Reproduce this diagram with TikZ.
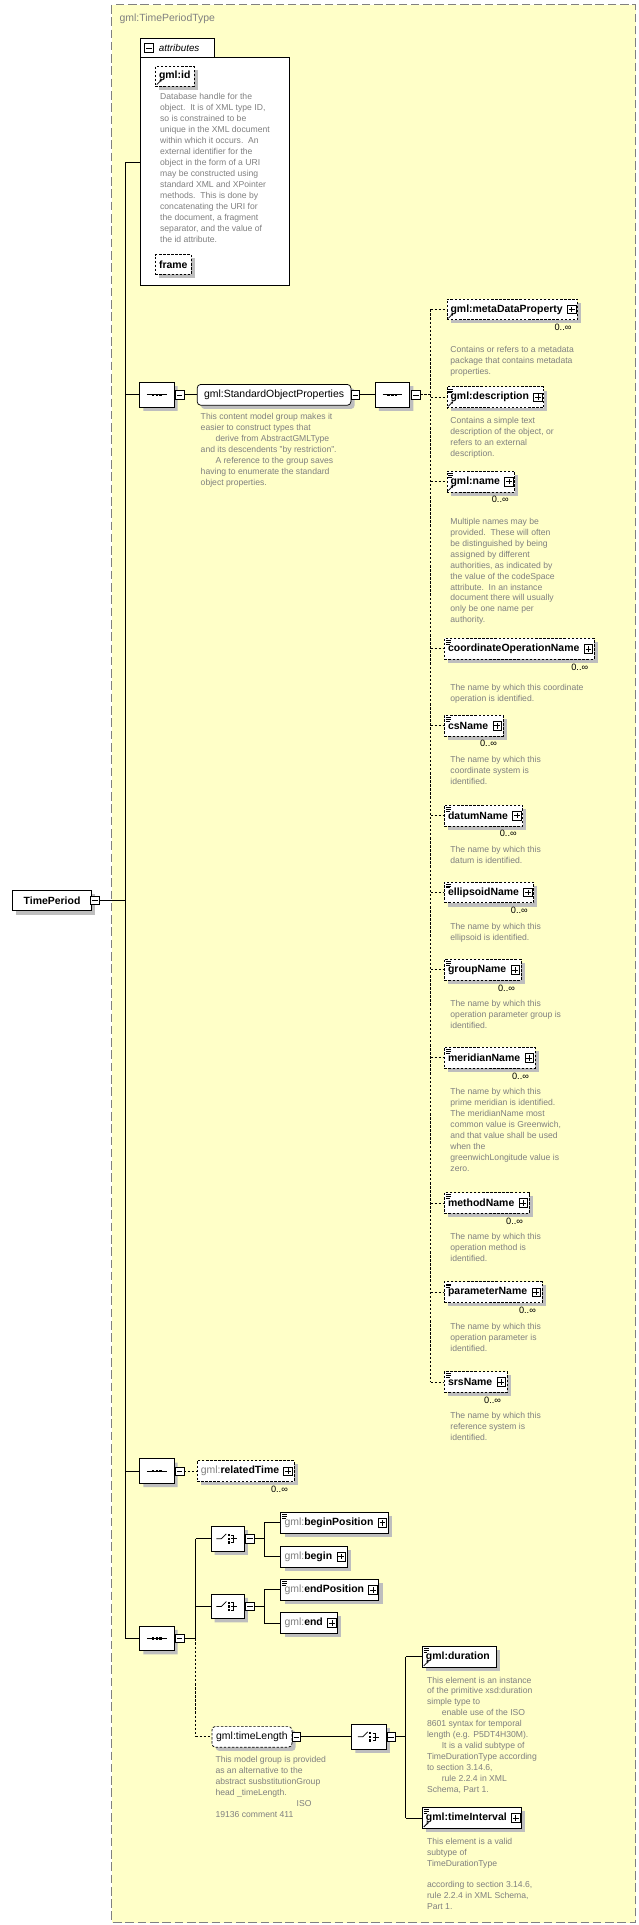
\documentclass[tikz,border=0pt]{standalone}
\usepackage{fontspec}
\setmainfont{Liberation Sans}
\usetikzlibrary{shapes.misc,shadows}
\definecolor{bgy}{RGB}{255,255,200}
\definecolor{dtxt}{RGB}{128,128,128}
\definecolor{shd}{RGB}{190,190,190}
\newcommand{\gm}{{\color{dtxt}\mdseries gml:}}
\newcommand{\myplus}[1]{\draw[fill=white,solid,line width=0.5pt] ($(#1)+(-3.5,-3.5)$) rectangle ($(#1)+(3.5,3.5)$); \draw[solid,line width=0.5pt] ($(#1)+(-2.3,0)$) -- ($(#1)+(2.3,0)$) ($(#1)+(0,-2.3)$) -- ($(#1)+(0,2.3)$);}
\newcommand{\myminus}[1]{\draw[fill=white,solid,line width=0.5pt] ($(#1)+(-3.5,-3.5)$) rectangle ($(#1)+(3.5,3.5)$); \draw[solid,line width=0.5pt] ($(#1)+(-2.3,0)$) -- ($(#1)+(2.3,0)$);}
\newcommand{\eqic}[1]{\draw[solid,line width=0.4pt] ($(#1.north west)+(1.5,2)$) -- ++(4,0) ($(#1.north west)+(1.5,3.5)$) -- ++(4,0) ($(#1.north west)+(1.5,5)$) -- ++(3,0);}
\newcommand{\refic}[1]{\draw[solid,line width=0.6pt,-{Stealth[length=2pt,width=2pt]}] ($(#1.south west)+(1.5,-1.5)$) -- ++(4,-4);}
\newcommand{\seqic}[1]{\draw[line width=0.6pt] ($(#1)+(-8,0)$) -- ($(#1)+(8,0)$); \foreach \d in {-3,0,3}{\fill ($(#1)+(\d,0)+(-1,-1)$) rectangle ++(2,2);}}
\newcommand{\choic}[1]{\draw[line width=0.6pt] ($(#1)+(-9,0)$) -- ($(#1)+(-5,0)$) -- ($(#1)+(-1,-4)$); \foreach \d in {-3,0,3}{\fill ($(#1)+(1,\d)+(-1,-1)$) rectangle ++(2,2);} \draw[line width=0.5pt] ($(#1)+(3,-3)$) -- ($(#1)+(5,-3)$) -- ($(#1)+(5,3)$) -- ($(#1)+(3,3)$) ($(#1)+(3,0)$) -- ($(#1)+(8,0)$);}
\usetikzlibrary{calc,arrows.meta}
\begin{document}
\begin{tikzpicture}[x=1pt,y=-1pt,
  lbl/.style={font=\fontsize{8.5}{10}\selectfont\bfseries},
  elem/.style={draw, fill=white, inner xsep=3pt, inner ysep=0pt, minimum height=17pt, anchor=west, line width=0.6pt,
     drop shadow={shadow xshift=3pt,shadow yshift=-3pt,fill=shd,opacity=1}, font=\fontsize{8.5}{10}\selectfont\bfseries},
  opt/.style={dash pattern=on 2pt off 1.3pt},
  dsh/.style={dash pattern=on 2pt off 1.3pt},
  desc/.style={anchor=north west, align=left, font=\fontsize{7}{8.9}\selectfont, text=dtxt, inner sep=0pt},
  mult/.style={anchor=north east, font=\fontsize{7.5}{9}\selectfont, inner sep=0pt},
  comp/.style={chamfered rectangle, draw, fill=white, minimum width=28pt, minimum height=20pt, inner sep=0pt,
     chamfered rectangle xsep=5pt, chamfered rectangle ysep=5pt, line width=0.6pt,
     drop shadow={shadow xshift=3pt,shadow yshift=-3pt,fill=shd,opacity=1}},
  ln/.style={line width=0.7pt}]
\useasboundingbox (0,0) rectangle (519,1565);
\fill[white] (0,0) rectangle (519,1565);
% frame
\draw[fill=bgy, draw=gray, line width=0.8pt, dash pattern=on 7pt off 3pt] (91,4) rectangle (517,1563);
\node[anchor=west, text=dtxt, font=\fontsize{8.5}{10}\selectfont, inner sep=0pt] (title) at (97,15) {gml:TimePeriodType};
% root
\node[elem, minimum width=64pt, anchor=west] (root) at (10,732) {TimePeriod};
\myminus{77,732}
\draw[ln] (80.5,732) -- (102,732);
\draw[ln] (102,132) -- (102,1332);
% attributes
\draw[ln, fill=white] (114,47) rectangle (235,232);
\draw[ln, fill=white] (114,31) rectangle (174,47);
\node[anchor=west, inner sep=0pt, font=\fontsize{8}{9}\selectfont\itshape] (attr) at (129,39) {attributes};
\myminus{121,39}
\draw[ln] (102,132) -- (114,132);
\node[elem, opt, minimum height=16pt] (gid) at (126,62) {gml:id};
\refic{gid}
\node[desc] (gidd) at (130,76) {Database handle for the\\object.\ \ It is of XML type ID,\\so is constrained to be\\unique in the XML document\\within which it occurs.\ \ An\\external identifier for the\\object in the form of a URI\\may be constructed using\\standard XML and XPointer\\methods.\ \ This is done by\\concatenating the URI for\\the document, a fragment\\separator, and the value of\\the id attribute.};
\node[elem, opt, minimum height=16pt] (frm) at (126,215) {frame};
% sequence 1
\node[comp] (s1) at (127.5,321) {}; \seqic{s1} \myminus{146,321}
\draw[ln] (102,321) -- (s1.west);
\node[elem, rounded corners=3pt, font=\fontsize{8.5}{10}\selectfont, minimum width=125pt, inner xsep=2pt] (sop) at (160,321) {gml:StandardObjectProperties\hfill};
\draw[ln] (149.5,321) -- (sop.west);
\myminus{289,321}
\node[comp] (s2) at (319,321) {}; \seqic{s2} \myminus{338,321}
\draw[ln] (292.5,321) -- (s2.west);
\node[desc] (sopd) at (163,336) {This content model group makes it\\easier to construct types that\\\hspace*{12pt}derive from AbstractGMLType\\and its descendents "by restriction".\\\hspace*{12pt}A reference to the group saves\\having to enumerate the standard\\object properties.};
\draw[ln, dsh] (341.5,321) -- (350,321);
\draw[ln, dsh] (350,251.5) -- (350,1123.5);
% children of StandardObjectProperties
\node[elem, opt] (mdp) at (363,251.5) {gml:metaDataProperty\hspace*{9pt}}; \refic{mdp} \myplus{$(mdp.east)+(-5,0)$}
\node[mult] at ($(mdp.south east)+(-5,3)$) {0..∞};
\node[desc] at (366,281) {Contains or refers to a metadata\\package that contains metadata\\properties.};
\node[elem, opt] (dsc) at (363,323) {gml:description\hspace*{9pt}}; \refic{dsc} \eqic{dsc} \myplus{$(dsc.east)+(-5,0)$}
\node[desc] at (366,339) {Contains a simple text\\description of the object, or\\refers to an external\\description.};
\node[elem, opt] (nam) at (363,391.5) {gml:name\hspace*{9pt}}; \refic{nam} \eqic{nam} \myplus{$(nam.east)+(-5,0)$}
\node[mult] at ($(nam.south east)+(-5,3)$) {0..∞};
\node[desc] at (366,421) {Multiple names may be\\provided.\ \ These will often\\be distinguished by being\\assigned by different\\authorities, as indicated by\\the value of the codeSpace\\attribute.\ \ In an instance\\document there will usually\\only be one name per\\authority.};
\foreach \nm/\yy/\lab/\txt in {
 con/527.5/coordinateOperationName/{\\The name by which this coordinate\\operation is identified.},
 csn/590/csName/{The name by which this\\coordinate system is\\identified.},
 dat/663/datumName/{The name by which this\\datum is identified.},
 ell/725.5/ellipsoidName/{The name by which this\\ellipsoid is identified.},
 grp/788.5/groupName/{The name by which this\\operation parameter group is\\identified.},
 mer/860/meridianName/{The name by which this\\prime meridian is identified.\\The meridianName most\\common value is Greenwich,\\and that value shall be used\\when the\\greenwichLongitude value is\\zero.},
 met/978/methodName/{The name by which this\\operation method is\\identified.},
 par/1050.5/parameterName/{The name by which this\\operation parameter is\\identified.},
 srs/1123.5/srsName/{The name by which this\\reference system is\\identified.}}{
 \node[elem, opt] (\nm) at (361,\yy) {\lab\hspace*{9pt}};
 \eqic{\nm} \myplus{$(\nm.east)+(-5,0)$}
 \node[mult] at ($(\nm.south east)+(-5,3)$) {0..∞};
 \node[desc] at ($(\nm.south west)+(5,16)$) {\txt};
 \draw[ln,dsh] (350,\yy) -- (\nm.west);
}
\draw[ln, dsh] (350,251.5) -- (mdp.west);
\draw[ln, dsh] (350,323) -- (dsc.west);
\draw[ln, dsh] (350,391.5) -- (nam.west);
% relatedTime
\node[comp] (s3) at (127.5,1196) {}; \seqic{s3} \myminus{146,1196}
\draw[ln] (102,1196) -- (s3.west);
\node[elem, opt] (rel) at (160,1196) {\gm relatedTime\hspace*{9pt}}; \myplus{$(rel.east)+(-5,0)$}
\draw[ln, dsh] (149.5,1196) -- (rel.west);
\node[mult] at ($(rel.south east)+(-5,3)$) {0..∞};
% sequence 4
\node[comp] (s4) at (127.5,1332) {}; \seqic{s4} \myminus{146,1332}
\draw[ln] (102,1332) -- (s4.west);
\draw[ln] (149.5,1332) -- (159,1332);
\draw[ln] (159,1251) -- (159,1332);
\draw[ln, dsh] (159,1332) -- (159,1412);
\node[comp, minimum width=27pt] (c1) at (185,1251) {}; \choic{c1} \myminus{203,1251}
\node[comp, minimum width=27pt] (c2) at (185,1306) {}; \choic{c2} \myminus{203,1306}
\draw[ln] (159,1251) -- (c1.west); \draw[ln] (159,1306) -- (c2.west);
\draw[ln] (206.5,1251) -- (215,1251); \draw[ln] (206.5,1306) -- (215,1306);
\draw[ln] (215,1238) -- (215,1265.5); \draw[ln] (215,1292.5) -- (215,1319.5);
\node[elem] (bp) at (228,1238) {\gm beginPosition\hspace*{9pt}}; \eqic{bp} \myplus{$(bp.east)+(-5,0)$}
\node[elem] (bg) at (228,1265.5) {\gm begin\hspace*{9pt}}; \myplus{$(bg.east)+(-5,0)$}
\node[elem] (ep) at (228,1292.5) {\gm endPosition\hspace*{9pt}}; \eqic{ep} \myplus{$(ep.east)+(-5,0)$}
\node[elem] (en) at (228,1319.5) {\gm end\hspace*{9pt}}; \myplus{$(en.east)+(-5,0)$}
\draw[ln] (215,1238) -- (bp.west); \draw[ln] (215,1265.5) -- (bg.west);
\draw[ln] (215,1292.5) -- (ep.west); \draw[ln] (215,1319.5) -- (en.west);
% timeLength
\node[elem, opt, rounded corners=3pt, font=\fontsize{8.5}{10}\selectfont, minimum width=65pt, inner xsep=2pt] (tl) at (172,1412) {gml:timeLength};
\draw[ln, dsh] (159,1412) -- (tl.west);
\myminus{241,1412}
\node[comp] (c3) at (300,1412) {}; \choic{c3} \myminus{318,1412}
\draw[ln] (244.5,1412) -- (c3.west);
\draw[ln] (321.5,1412) -- (330,1412);
\draw[ln] (330,1347) -- (330,1478);
\node[desc] at (175,1428) {This model group is provided\\as an alternative to the\\abstract susbstitutionGroup\\head \_timeLength.\\\hspace*{66pt}ISO\\19136 comment 411};
\node[elem] (dur) at (343,1347) {gml:duration\hspace*{2pt}}; \eqic{dur} \refic{dur}
\node[elem] (tin) at (343,1478) {gml:timeInterval\hspace*{9pt}}; \eqic{tin} \refic{tin} \myplus{$(tin.east)+(-5,0)$}
\draw[ln] (330,1347) -- (dur.west); \draw[ln] (330,1478) -- (tin.west);
\node[desc] at (347,1363) {This element is an instance\\of the primitive xsd:duration\\simple type to\\\hspace*{12pt}enable use of the ISO\\8601 syntax for temporal\\length (e.g. P5DT4H30M).\\\hspace*{12pt}It is a valid subtype of\\TimeDurationType according\\to section 3.14.6,\\\hspace*{12pt}rule 2.2.4 in XML\\Schema, Part 1.};
\node[desc] at (347,1494) {This element is a valid\\subtype of\\TimeDurationType\\\\according to section 3.14.6,\\rule 2.2.4 in XML Schema,\\Part 1.};
\end{tikzpicture}
\end{document}
